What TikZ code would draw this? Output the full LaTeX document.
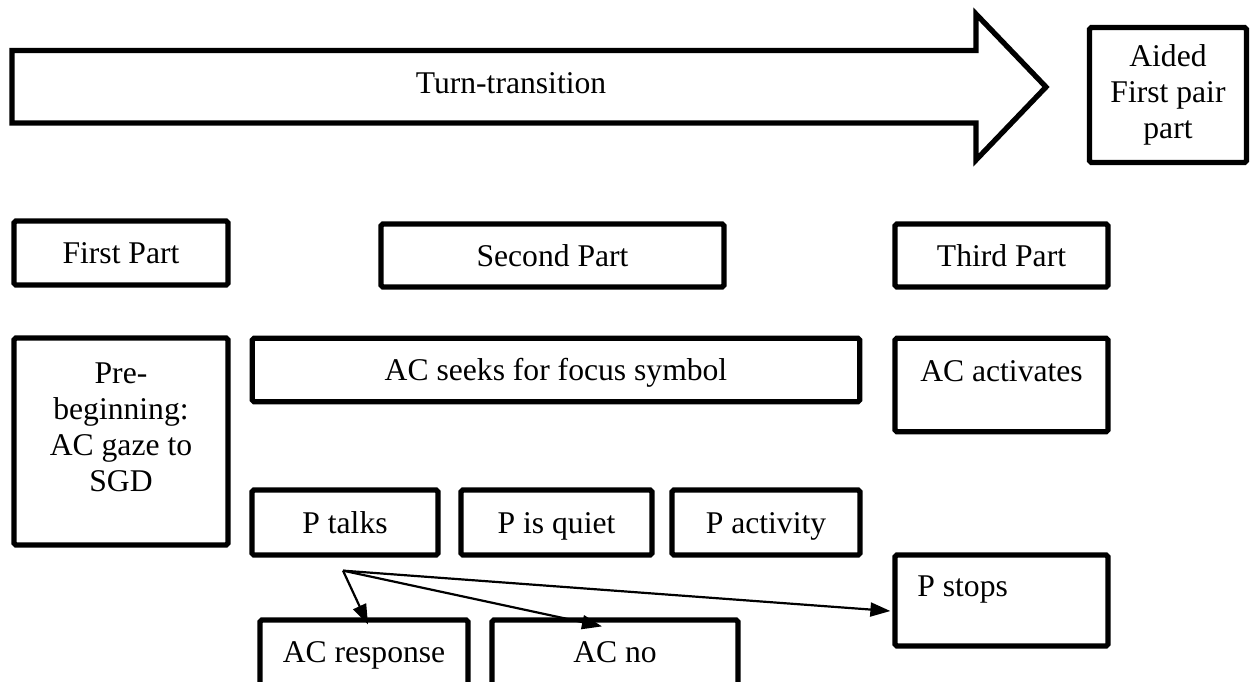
\documentclass[tikz,border=0pt]{standalone}
\usepackage{fontspec}
\setmainfont{Liberation Serif}
\usetikzlibrary{arrows.meta,calc}
\tikzset{
  boxline/.style={draw=black,line width=3pt,rounded corners=1pt,inner sep=0pt},
  parttext/.style={font=\fontsize{18}{20.5}\selectfont,inner sep=0pt,align=center},
  partbox/.style={boxline,parttext,text height=12pt,text depth=0pt},
  talkflow/.style={-{Triangle[length=4mm,width=2.8mm]},line width=1.25pt},
}

\begin{document}
\begin{tikzpicture}[x=0.02cm,y=-0.02cm]
% Page: 1251 x 681 units, y counted downwards.
\clip (0,0) rectangle (1251,681);

% Turn-transition arrow and the aided first pair part.
\draw[line width=3pt,line join=miter] (12,50.5) -- (976,50.5) -- (976,14) -- (1046,87)
  -- (976,160) -- (976,123) -- (12,123) -- cycle;
\node[parttext] (turn) at (511,83) {Turn-transition};
\node[boxline,parttext,minimum width=3.14cm,minimum height=2.7cm] (aided) at (1168,95)
  {Aided\\First pair\\part};

% The three parts.
\node[partbox,minimum width=4.28cm,minimum height=1.28cm] (first) at (121,253) {First Part};
\node[partbox,minimum width=6.86cm,minimum height=1.26cm] (second) at (552.5,255.5) {Second Part};
\node[partbox,minimum width=4.26cm,minimum height=1.26cm] (third) at (1001.5,255.5) {Third Part};

% What happens in each part.
\node[boxline,minimum width=4.28cm,minimum height=4.14cm] (pre) at (121,441.5) {};
\node[parttext,anchor=north] (pretext) at (121,362) {Pre-\\beginning:\\AC gaze to\\SGD};
\node[partbox,minimum width=12.15cm,minimum height=1.27cm] (seeks) at (556,370)
  {AC seeks for focus symbol};
\node[boxline,minimum width=4.26cm,minimum height=1.87cm] (activ) at (1001.5,385) {};
\node[parttext,anchor=north] (activtext) at (1001.5,360) {AC activates};

\node[partbox,minimum width=3.72cm,minimum height=1.3cm] (talks) at (345,522.5) {P talks};
\node[partbox,minimum width=3.82cm,minimum height=1.3cm] (quiet) at (556.5,522.5) {P is quiet};
\node[partbox,minimum width=3.76cm,minimum height=1.3cm] (pactiv) at (766,522.5) {P activity};
\node[boxline,minimum width=4.26cm,minimum height=1.82cm] (stops) at (1001.5,600.5) {};
\node[parttext,anchor=north west] (stopstext) at (917,575) {P stops};

\node[partbox,text depth=4pt,minimum width=4.16cm,minimum height=1.4cm] (resp) at (364,655)
  {AC response};
\node[partbox,text depth=4pt,minimum width=4.92cm,minimum height=1.4cm] (no) at (615,655)
  {AC no};

% Branches out of P talks.
\coordinate (talkfoot) at ($(talks.south)+(-2,13)$);
\draw[talkflow] (talkfoot) -- ($(resp.north)+(4,7)$);
\draw[talkflow] (talkfoot) -- ($(no.north)+(-13,9)$);
\draw[talkflow] (talkfoot) -- ($(stops.west)+(-2,10.5)$);
\end{tikzpicture}
\end{document}
